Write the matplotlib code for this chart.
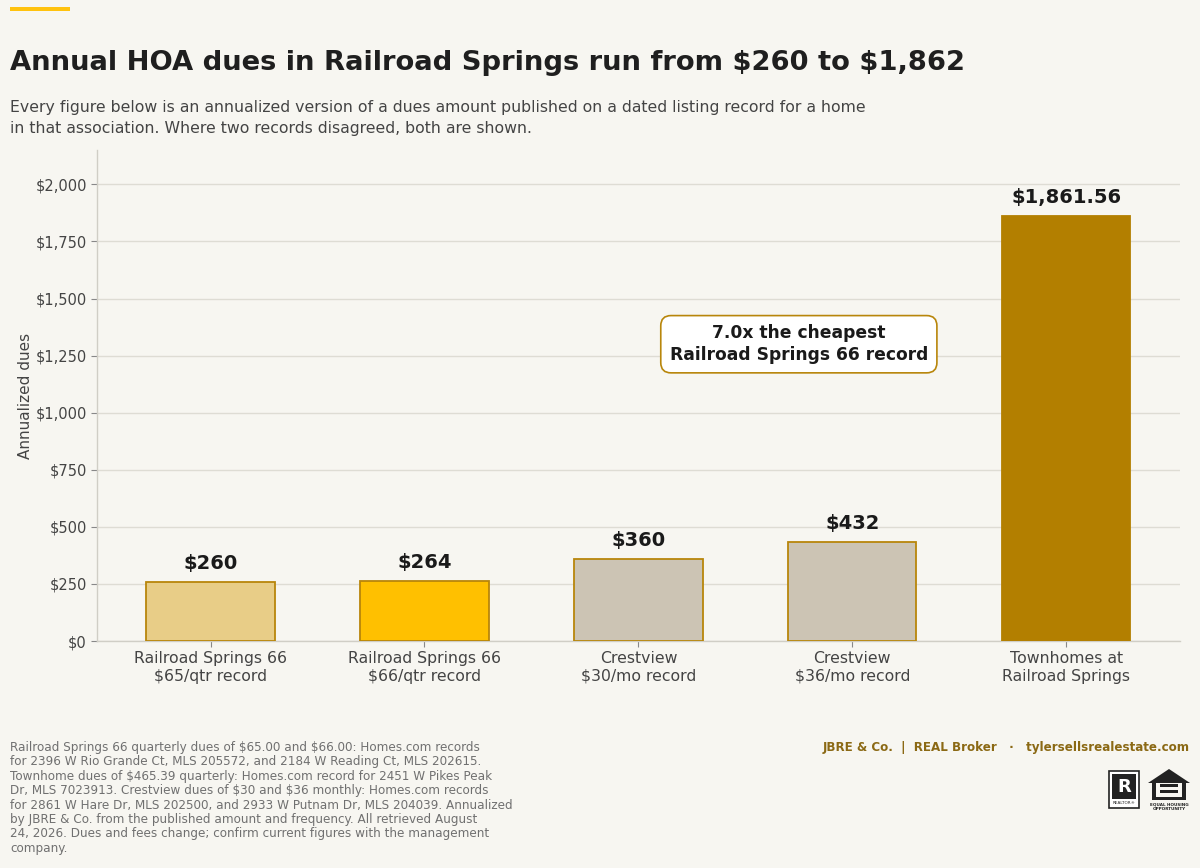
import matplotlib
matplotlib.use("Agg")
import matplotlib.pyplot as plt
from matplotlib.patches import Rectangle, Polygon
from matplotlib.ticker import FuncFormatter, MultipleLocator

categories = ["Railroad Springs 66\n$65/qtr record", "Railroad Springs 66\n$66/qtr record",
              "Crestview\n$30/mo record", "Crestview\n$36/mo record",
              "Townhomes at\nRailroad Springs"]
values = [260, 264, 360, 432, 1861.56]
value_labels = ["$260", "$264", "$360", "$432", "$1,861.56"]
bar_colors = ["#E8CD87", "#FFC000", "#CCC4B4", "#CCC4B4", "#B37F00"]

BG = "#F7F6F1"
GOLD_EDGE = "#B8860B"

plt.rcParams['font.family'] = ['DejaVu Sans']
plt.rcParams['text.parse_math'] = False
fig = plt.figure(figsize=(12, 8.68), dpi=100, facecolor=BG)
ax = fig.add_axes([0.081, 0.2615, 0.902, 0.5655], facecolor=BG)

x = list(range(len(values)))
bars = ax.bar(x, values, width=0.6, color=bar_colors, edgecolor=[GOLD_EDGE]*4 + [bar_colors[4]],
              linewidth=1.3, zorder=3)
for xi, v, lab in zip(x, values, value_labels):
    ax.text(xi, v + 40, lab, ha="center", va="bottom", fontsize=14, fontweight="bold",
            color="#1a1a1a", zorder=4)

ax.set_ylim(0, 2150)
ax.yaxis.set_major_locator(MultipleLocator(250))
ax.yaxis.set_major_formatter(FuncFormatter(lambda v, p: f"${v:,.0f}"))
ax.set_xticks(x)
ax.set_xticklabels(categories, fontsize=11.3, color="#444444")
ax.tick_params(axis="y", labelsize=10.5, labelcolor="#444444", color="#888888", length=4)
ax.tick_params(axis="x", color="#888888", length=4, pad=3.5)
ax.set_ylabel("Annualized dues", fontsize=11, color="#444444", labelpad=1.5)
ax.grid(axis="y", color="#DEDCD4", linewidth=1, zorder=0)
for s in ["top", "right"]:
    ax.spines[s].set_visible(False)
for s in ["left", "bottom"]:
    ax.spines[s].set_color("#D0CEC6")
    ax.spines[s].set_linewidth(1)

ax.text(2.75, 1300, "7.0x the cheapest\nRailroad Springs 66 record", ha="center", va="center",
        fontsize=12.3, fontweight="bold", color="#1a1a1a", linespacing=1.25, zorder=5,
        bbox=dict(boxstyle="round,pad=0.52,rounding_size=0.6", facecolor="white",
                  edgecolor=GOLD_EDGE, linewidth=1.2))

# header
fig.patches.append(Rectangle((10/1200, 1-11/868), 60/1200, 4/868, transform=fig.transFigure,
                             facecolor="#FFC20E", edgecolor="none"))
fig.text(10/1200, 1-70/868, "Annual HOA dues in Railroad Springs run from $260 to $1,862",
         fontsize=19.7, fontweight="bold", color="#1f1f1f", va="baseline")
fig.text(10/1200, 1-100/868,
         "Every figure below is an annualized version of a dues amount published on a dated listing record for a home\n"
         "in that association. Where two records disagreed, both are shown.",
         fontsize=11.3, color="#444444", va="top", linespacing=1.5)

# footer
footer = ("Railroad Springs 66 quarterly dues of $65.00 and $66.00: Homes.com records\n"
          "for 2396 W Rio Grande Ct, MLS 205572, and 2184 W Reading Ct, MLS 202615.\n"
          "Townhome dues of $465.39 quarterly: Homes.com record for 2451 W Pikes Peak\n"
          "Dr, MLS 7023913. Crestview dues of $30 and $36 monthly: Homes.com records\n"
          "for 2861 W Hare Dr, MLS 202500, and 2933 W Putnam Dr, MLS 204039. Annualized\n"
          "by JBRE & Co. from the published amount and frequency. All retrieved August\n"
          "24, 2026. Dues and fees change; confirm current figures with the management\n"
          "company.")
fig.text(10/1200, 1-741/868, footer, fontsize=8.65, color="#707070", va="top", linespacing=1.14)
fig.text(1190/1200, 1-748/868, "JBRE & Co.  |  REAL Broker   ·   tylersellsrealestate.com",
         fontsize=8.55, fontweight="bold", color="#8B6914", ha="right", va="center")

# logos
def fx(px): return px/1200
def fy(py): return 1-py/868
fig.patches.append(Rectangle((fx(1109), fy(808)), fx(30), 37/868, transform=fig.transFigure,
                             facecolor="white", edgecolor="#222222", linewidth=1.2))
fig.patches.append(Rectangle((fx(1112), fy(799)), fx(24), 25/868, transform=fig.transFigure,
                             facecolor="#222222", edgecolor="none"))
fig.text(fx(1124), fy(787), "R", fontsize=13, fontweight="bold", color="white",
         ha="center", va="center")
fig.text(fx(1124), fy(803.5), "REALTOR®", fontsize=3, color="#222222", ha="center", va="center")
house = Polygon([(fx(1148), fy(783)), (fx(1169), fy(769)), (fx(1190), fy(783)),
                 (fx(1186), fy(783)), (fx(1186), fy(800)), (fx(1152), fy(800)), (fx(1152), fy(783))],
                closed=True, transform=fig.transFigure, facecolor="#222222", edgecolor="none")
fig.patches.append(house)
fig.patches.append(Rectangle((fx(1156), fy(797)), fx(26), 14/868, transform=fig.transFigure,
                             facecolor=BG, edgecolor="none"))
fig.patches.append(Rectangle((fx(1160), fy(787)), fx(18), 3/868, transform=fig.transFigure,
                             facecolor="#222222", edgecolor="none"))
fig.patches.append(Rectangle((fx(1160), fy(793)), fx(18), 3/868, transform=fig.transFigure,
                             facecolor="#222222", edgecolor="none"))
fig.text(fx(1169), fy(804), "EQUAL HOUSING", fontsize=3, fontweight="bold", color="#222222",
         ha="center", va="center")
fig.text(fx(1169), fy(808.5), "OPPORTUNITY", fontsize=3, fontweight="bold", color="#222222",
         ha="center", va="center")

fig.savefig("out.png", dpi=100, facecolor=BG)
